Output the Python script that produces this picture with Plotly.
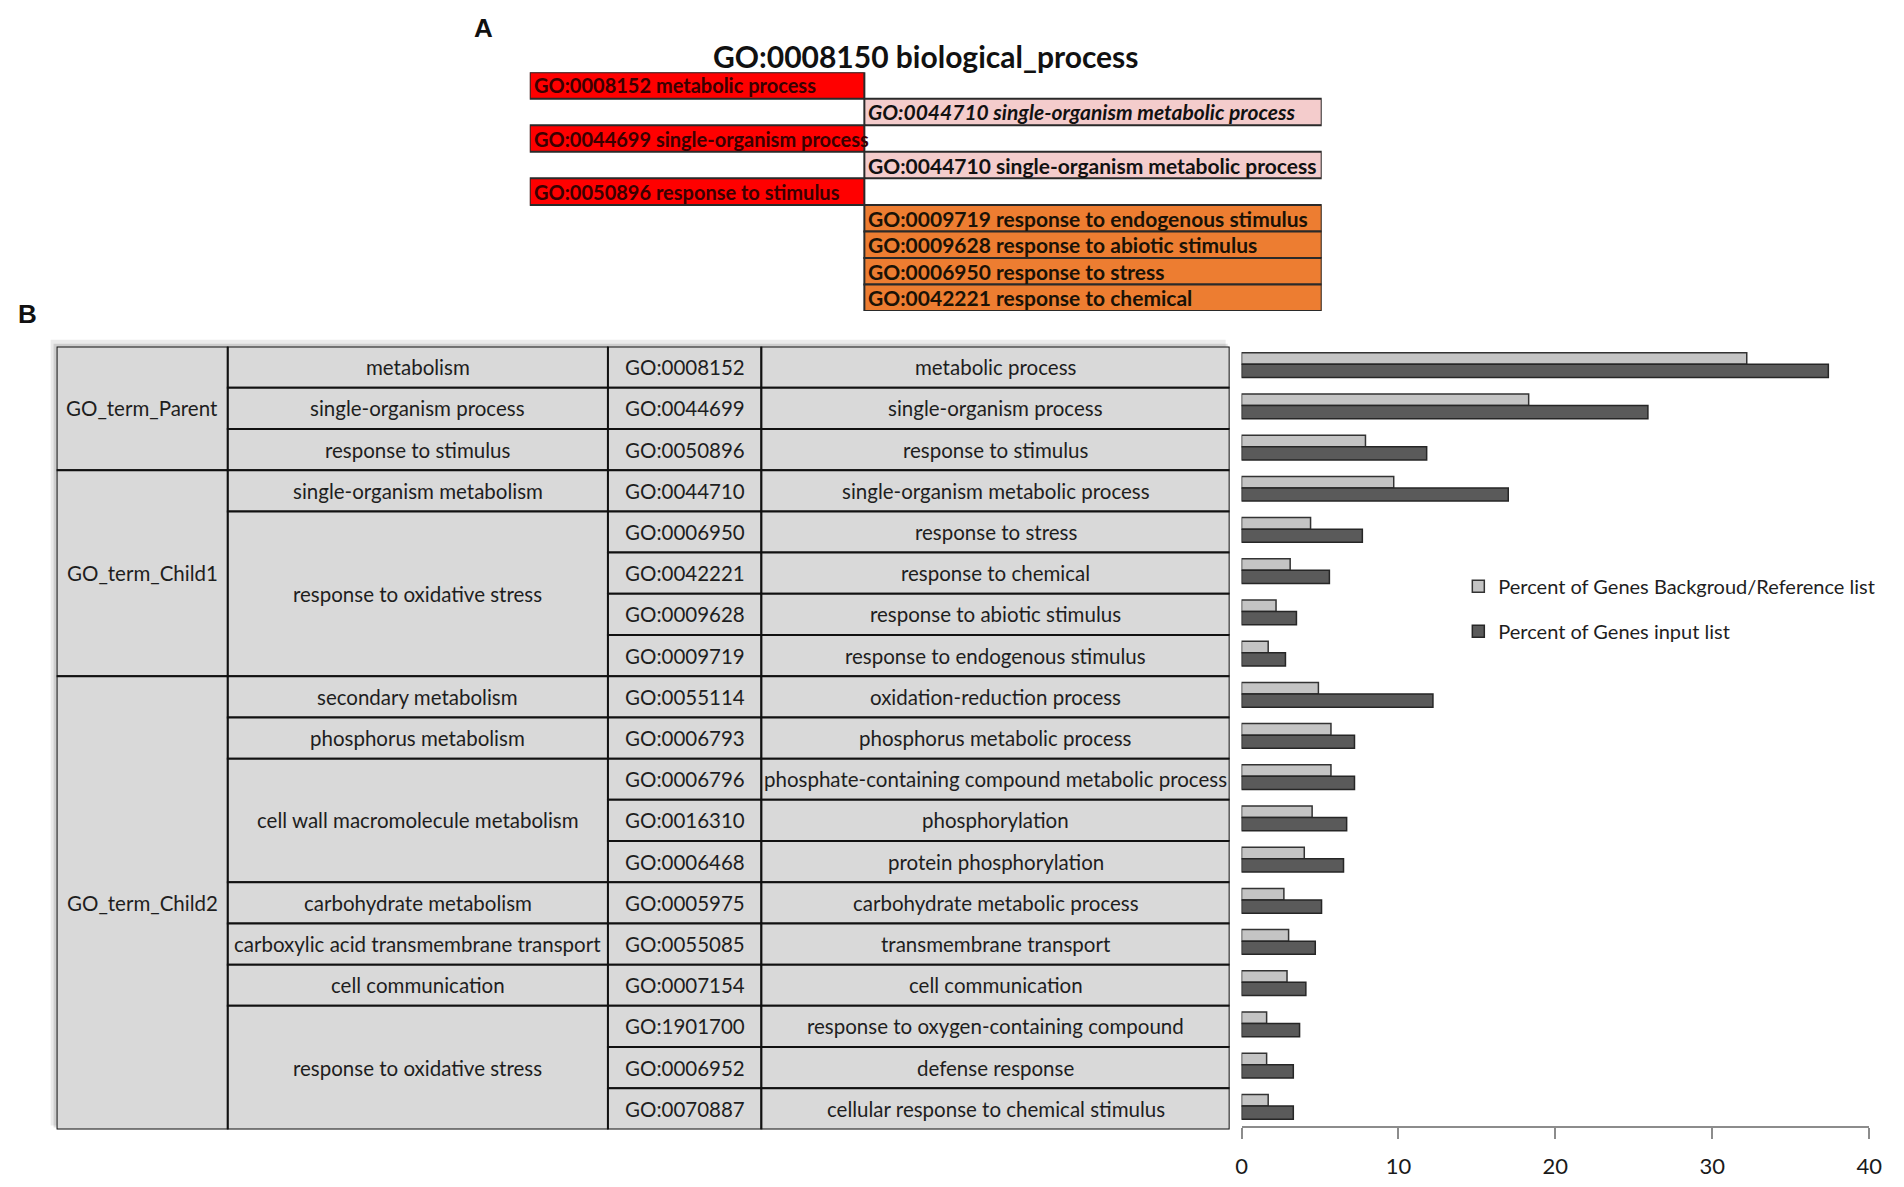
import plotly.graph_objects as go

W, H = 1904, 1187
PAGE_MARGIN = 8  # browser default body margin around the plot div

# ---------------- panel A: GO hierarchy ----------------
A_TITLE = "GO:0008150 biological_process"
A_LABELS = [
    "GO:0008152 metabolic process",
    "GO:0044710 single-organism metabolic process",
    "GO:0044699 single-organism process",
    "GO:0044710 single-organism metabolic process",
    "GO:0050896 response to stimulus",
    "GO:0009719 response to endogenous stimulus",
    "GO:0009628 response to abiotic stimulus",
    "GO:0006950 response to stress",
    "GO:0042221 response to chemical",
]
A_LEVEL = [0, 1, 0, 1, 0, 1, 1, 1, 1]
A_GROUP = ["parent", "metab", "parent", "metab", "parent", "stim", "stim", "stim", "stim"]

# ---------------- panel B: table + bars ----------------
GROUPS = ["GO_term_Parent", "GO_term_Child1", "GO_term_Child2"]
GROUP_SPANS = [3, 5, 11]
CATEGORIES = [
    "metabolism", "single-organism process", "response to stimulus",
    "single-organism metabolism", "response to oxidative stress",
    "secondary metabolism", "phosphorus metabolism",
    "cell wall macromolecule metabolism", "carbohydrate metabolism",
    "carboxylic acid transmembrane transport", "cell communication",
    "response to oxidative stress",
]
CATEGORY_SPANS = [1, 1, 1, 1, 4, 1, 1, 3, 1, 1, 1, 3]
GO_IDS = [
    "GO:0008152", "GO:0044699", "GO:0050896", "GO:0044710", "GO:0006950",
    "GO:0042221", "GO:0009628", "GO:0009719", "GO:0055114", "GO:0006793",
    "GO:0006796", "GO:0016310", "GO:0006468", "GO:0005975", "GO:0055085",
    "GO:0007154", "GO:1901700", "GO:0006952", "GO:0070887",
]
GO_NAMES = [
    "metabolic process", "single-organism process", "response to stimulus",
    "single-organism metabolic process", "response to stress",
    "response to chemical", "response to abiotic stimulus",
    "response to endogenous stimulus", "oxidation-reduction process",
    "phosphorus metabolic process",
    "phosphate-containing compound metabolic process", "phosphorylation",
    "protein phosphorylation", "carbohydrate metabolic process",
    "transmembrane transport", "cell communication",
    "response to oxygen-containing compound", "defense response",
    "cellular response to chemical stimulus",
]
REF_PCT = [32.2, 18.3, 7.9, 9.7, 4.4, 3.1, 2.2, 1.7, 4.9, 5.7, 5.7, 4.5,
           4.0, 2.7, 3.0, 2.9, 1.6, 1.6, 1.7]
INPUT_PCT = [37.4, 25.9, 11.8, 17.0, 7.7, 5.6, 3.5, 2.8, 12.2, 7.2, 7.2, 6.7,
             6.5, 5.1, 4.7, 4.1, 3.7, 3.3, 3.3]
X_TICKS = [0, 10, 20, 30, 40]

# layout constants (pixels on the page)
COL_WIDTHS = [173, 384, 155, 473]
A_COL_WIDTHS = [338, 462]
TABLE_LEFT, TABLE_TOP, TABLE_BOTTOM = 51, 351, 1144
TABLE_RIGHT = TABLE_LEFT + sum(COL_WIDTHS)
BAR_LEFT, BAR_RIGHT, BAR_BOTTOM = 1248, 1882, 1141
A_LEFT, A_TOP, A_BOTTOM = 529, 73, 315
A_RIGHT = A_LEFT + sum(A_COL_WIDTHS)

FONT = "Lato"
TXT = "#1e1e1e"
A_FILL = {"parent": "#ff0000", "metab": "#f4cccc", "stim": "#ed7d31"}
A_TXT = {"parent": "#3a0000", "metab": "#111111", "stim": "#1a1206"}
A_SIZE = {"parent": 20, "metab": 21, "stim": 21}

FIG_W, FIG_H = W - 2 * PAGE_MARGIN, H - 2 * PAGE_MARGIN
n_rows = len(GO_IDS)
n_a = len(A_LABELS)


def px(x):
    return (x - PAGE_MARGIN) / FIG_W


def py(y):
    return 1 - (y - PAGE_MARGIN) / FIG_H


fig = go.Figure()
annotations = []

# ---- panel A boxes
a_starts = [sum(A_COL_WIDTHS[:lv]) for lv in A_LEVEL]
fig.add_trace(go.Bar(
    orientation="h", y=list(range(n_a)), x=[A_COL_WIDTHS[lv] for lv in A_LEVEL],
    base=a_starts, width=1, offset=-0.5,
    marker=dict(color=[A_FILL[g] for g in A_GROUP], line=dict(color="#2a2a2a", width=2)),
    xaxis="x3", yaxis="y3", showlegend=False, hoverinfo="skip",
))
for i, lab in enumerate(A_LABELS):
    text = f"<i>{lab}</i>" if i == 1 else lab
    annotations.append(dict(
        x=a_starts[i] + 2, y=i, xref="x3", yref="y3", text=f"<b>{text}</b>",
        showarrow=False, xanchor="left", yanchor="middle",
        font=dict(family=FONT, size=A_SIZE[A_GROUP[i]], color=A_TXT[A_GROUP[i]]),
    ))

annotations.append(dict(
    x=px((A_LEFT + A_RIGHT) / 2), y=py(57), xref="paper", yref="paper",
    text=f"<b>{A_TITLE}</b>", showarrow=False, xanchor="center", yanchor="middle",
    font=dict(family=FONT, size=30, color="#111111"),
))
annotations.append(dict(
    x=px(482), y=py(28), xref="paper", yref="paper", text="<b>A</b>",
    showarrow=False, xanchor="center", yanchor="middle",
    font=dict(family="Liberation Sans", size=26, color="#111111"),
))
annotations.append(dict(
    x=px(22), y=py(318), xref="paper", yref="paper", text="<b>B</b>",
    showarrow=False, xanchor="center", yanchor="middle",
    font=dict(family="Liberation Sans", size=26, color="#111111"),
))


# ---- table cells (merged cells via row spans)
def span_starts(spans):
    starts, pos = [], 0
    for s in spans:
        starts.append(pos)
        pos += s
    return starts


columns = [
    (GROUPS, GROUP_SPANS),
    (CATEGORIES, CATEGORY_SPANS),
    (GO_IDS, [1] * n_rows),
    (GO_NAMES, [1] * n_rows),
]
cell_y, cell_w, cell_base, cell_len = [], [], [], []
for ci, (labels, spans) in enumerate(columns):
    col_start = sum(COL_WIDTHS[:ci])
    for lab, st, sp in zip(labels, span_starts(spans), spans):
        yc = st + sp / 2 - 0.5
        cell_y.append(yc)
        cell_w.append(sp)
        cell_base.append(col_start)
        cell_len.append(COL_WIDTHS[ci])
        annotations.append(dict(
            x=col_start + COL_WIDTHS[ci] / 2, y=yc, xref="x2", yref="y2", text=lab,
            showarrow=False, xanchor="center", yanchor="middle",
            font=dict(family=FONT, size=20.5, color=TXT),
        ))

fig.add_trace(go.Bar(
    orientation="h", y=cell_y, x=cell_len, base=cell_base, width=cell_w,
    offset=[-w / 2 for w in cell_w],
    marker=dict(color="#d9d9d9", line=dict(color="#111111", width=2)),
    xaxis="x2", yaxis="y2", showlegend=False, hoverinfo="skip",
))

# ---- bar chart
rows = list(range(n_rows))
fig.add_trace(go.Bar(
    orientation="h", y=rows, x=REF_PCT, offset=-0.35, width=0.28,
    name="Percent of Genes Backgroud/Reference list", legendgroup="ref",
    marker=dict(color="#c4c4c4", line=dict(color="#333333", width=1.5)),
    xaxis="x", yaxis="y",
))
fig.add_trace(go.Bar(
    orientation="h", y=rows, x=INPUT_PCT, offset=-0.07, width=0.32,
    name="Percent of Genes input list", legendgroup="inp",
    marker=dict(color="#5a5a5a", line=dict(color="#262626", width=1.5)),
    xaxis="x", yaxis="y",
))

# soft shadow along the table's top/left edges
shapes = [
    dict(type="rect", xref="paper", yref="paper", layer="below",
         x0=px(TABLE_LEFT - 6), x1=px(TABLE_RIGHT - 4), y0=py(TABLE_BOTTOM - 4), y1=py(TABLE_TOP - 7),
         fillcolor="rgba(0,0,0,0.08)", line=dict(width=0)),
    dict(type="rect", xref="paper", yref="paper", layer="below",
         x0=px(TABLE_LEFT - 3), x1=px(TABLE_RIGHT - 2), y0=py(TABLE_BOTTOM - 2), y1=py(TABLE_TOP - 3),
         fillcolor="rgba(0,0,0,0.12)", line=dict(width=0)),
]

# bar rows keep the table's row pitch even though the axis line sits a bit higher
row_px = (TABLE_BOTTOM - TABLE_TOP) / n_rows
bar_bottom_row = n_rows - 0.5 - (TABLE_BOTTOM - BAR_BOTTOM) / row_px

fig.update_layout(
    width=FIG_W, height=FIG_H, margin=dict(l=0, r=0, t=0, b=0),
    paper_bgcolor="white", plot_bgcolor="rgba(0,0,0,0)",
    barmode="overlay", annotations=annotations, shapes=shapes,
    font=dict(family=FONT, color=TXT),
    xaxis=dict(domain=[px(BAR_LEFT), px(BAR_RIGHT)], range=[0, 40], tickvals=X_TICKS,
               ticks="outside", ticklen=11, tickwidth=2, tickcolor="#8c8c8c",
               showline=True, linecolor="#8c8c8c", linewidth=2, showgrid=False,
               zeroline=False, tickfont=dict(family=FONT, size=22, color="#1a1a1a"),
               ticklabelstandoff=8, anchor="y", fixedrange=True),
    yaxis=dict(domain=[py(BAR_BOTTOM), py(TABLE_TOP)], range=[bar_bottom_row, -0.5],
               visible=False, anchor="x", fixedrange=True),
    xaxis2=dict(domain=[px(TABLE_LEFT), px(TABLE_RIGHT)], range=[0, sum(COL_WIDTHS)],
                visible=False, anchor="y2", fixedrange=True),
    yaxis2=dict(domain=[py(TABLE_BOTTOM), py(TABLE_TOP)], range=[n_rows - 0.5, -0.5],
                visible=False, anchor="x2", fixedrange=True),
    xaxis3=dict(domain=[px(A_LEFT), px(A_RIGHT)], range=[0, sum(A_COL_WIDTHS)],
                visible=False, anchor="y3", fixedrange=True),
    yaxis3=dict(domain=[py(A_BOTTOM), py(A_TOP)], range=[n_a - 0.5, -0.5],
                visible=False, anchor="x3", fixedrange=True),
    showlegend=True,
    legend=dict(x=px(1467), y=py(574), xanchor="left", yanchor="top",
                font=dict(family=FONT, size=20, color="#1e1e1e"),
                tracegroupgap=16, itemwidth=30, bgcolor="rgba(0,0,0,0)"),
)

fig.write_html("out.html")
